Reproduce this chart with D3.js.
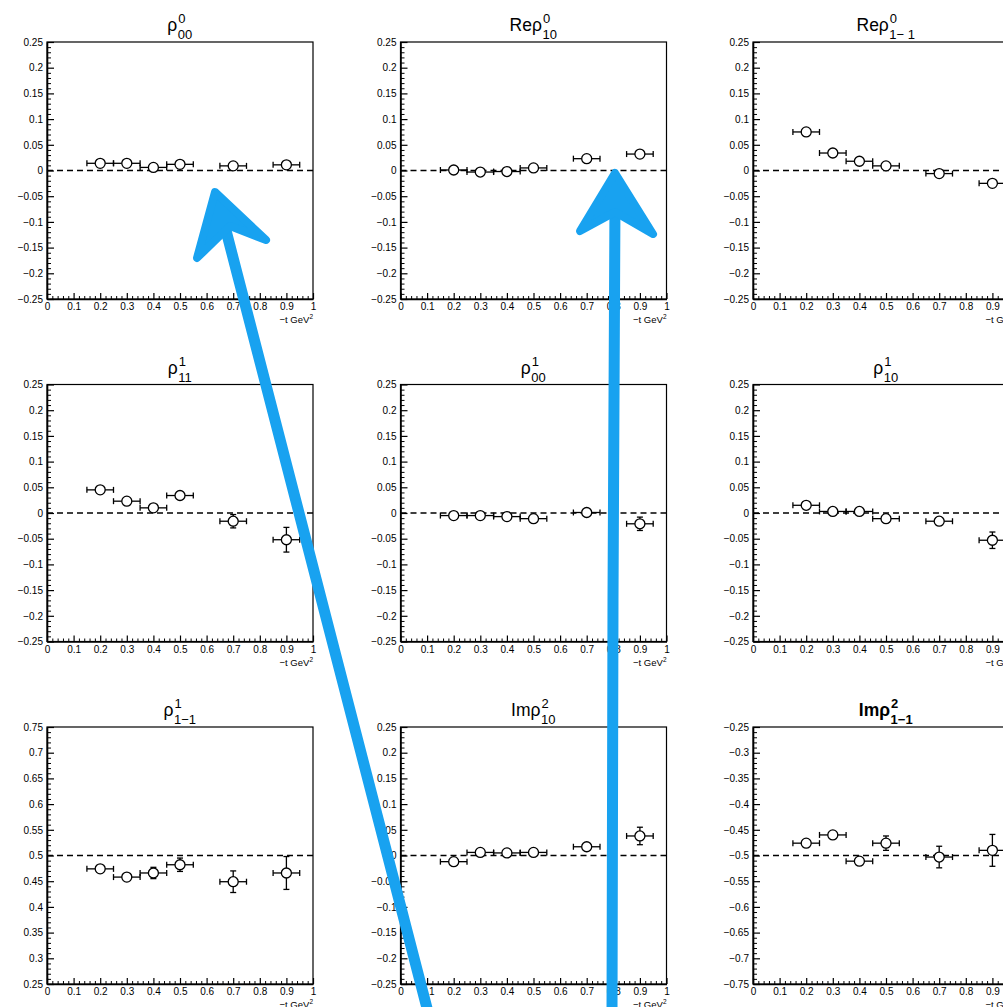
<!DOCTYPE html>
<html>
<head>
  <script src="https://cdnjs.cloudflare.com/ajax/libs/d3/7.8.5/d3.min.js"></script>
  <style>
    body { margin: 0; background: #fff; }
    text { font-family: "Liberation Sans", Arial, Helvetica, sans-serif; fill: #000; }
    .tick text { font-size: 10px; }
    .axis path, .axis line { stroke: #000; }
  </style>
</head>
<body>
  <div id="graph"></div>
  <script>
    // -t bins (centres) and half widths, same for every panel
    const tBins = [0.2, 0.3, 0.4, 0.5, 0.7, 0.9];
    const tHalf = [0.05, 0.05, 0.05, 0.05, 0.05, 0.05];
    const xTicks = [0, 0.1, 0.2, 0.3, 0.4, 0.5, 0.6, 0.7, 0.8, 0.9, 1];
    const yTicksSym = [-0.25, -0.2, -0.15, -0.1, -0.05, 0, 0.05, 0.1, 0.15, 0.2, 0.25];
    const yTicksHigh = [0.25, 0.3, 0.35, 0.4, 0.45, 0.5, 0.55, 0.6, 0.65, 0.7, 0.75];
    const yTicksLow = [-0.75, -0.7, -0.65, -0.6, -0.55, -0.5, -0.45, -0.4, -0.35, -0.3, -0.25];

    // spin density matrix elements
    const r0_00 = [0.014, 0.014, 0.006, 0.012, 0.009, 0.011];
    const r0_00Err = [0.004, 0.004, 0.004, 0.004, 0.005, 0.006];
    const reR0_10 = [0.001, -0.003, -0.002, 0.005, 0.023, 0.032];
    const reR0_10Err = [0.003, 0.003, 0.003, 0.004, 0.005, 0.006];
    const reR0_1m1 = [0.075, 0.034, 0.018, 0.009, -0.006, -0.025];
    const reR0_1m1Err = [0.004, 0.004, 0.004, 0.004, 0.005, 0.006];
    const r1_11 = [0.045, 0.023, 0.010, 0.034, -0.016, -0.052];
    const r1_11Err = [0.005, 0.005, 0.005, 0.006, 0.013, 0.024];
    const r1_00 = [-0.005, -0.005, -0.007, -0.011, 0.001, -0.021];
    const r1_00Err = [0.004, 0.004, 0.004, 0.005, 0.008, 0.013];
    const r1_10 = [0.015, 0.003, 0.003, -0.011, -0.016, -0.053];
    const r1_10Err = [0.004, 0.004, 0.004, 0.005, 0.007, 0.016];
    const r1_1m1 = [0.474, 0.458, 0.466, 0.482, 0.449, 0.466];
    const r1_1m1Err = [0.009, 0.005, 0.011, 0.013, 0.021, 0.032];
    const imR2_10 = [-0.012, 0.006, 0.005, 0.006, 0.017, 0.038];
    const imR2_10Err = [0.005, 0.004, 0.004, 0.005, 0.007, 0.017];
    const imR2_1m1 = [-0.476, -0.460, -0.511, -0.476, -0.503, -0.490];
    const imR2_1m1Err = [0.005, 0.005, 0.008, 0.014, 0.021, 0.031];

    const panels = [
      { pre: "ρ", sup: "0", sub: "00", y: r0_00, e: r0_00Err, ticks: yTicksSym, ref: 0 },
      { pre: "Reρ", sup: "0", sub: "10", y: reR0_10, e: reR0_10Err, ticks: yTicksSym, ref: 0 },
      { pre: "Reρ", sup: "0", sub: "1− 1", y: reR0_1m1, e: reR0_1m1Err, ticks: yTicksSym, ref: 0 },
      { pre: "ρ", sup: "1", sub: "11", y: r1_11, e: r1_11Err, ticks: yTicksSym, ref: 0 },
      { pre: "ρ", sup: "1", sub: "00", y: r1_00, e: r1_00Err, ticks: yTicksSym, ref: 0 },
      { pre: "ρ", sup: "1", sub: "10", y: r1_10, e: r1_10Err, ticks: yTicksSym, ref: 0 },
      { pre: "ρ", sup: "1", sub: "1−1", y: r1_1m1, e: r1_1m1Err, ticks: yTicksHigh, ref: 0.5 },
      { pre: "Imρ", sup: "2", sub: "10", y: imR2_10, e: imR2_10Err, ticks: yTicksSym, ref: 0 },
      { pre: "Imρ", sup: "2", sub: "1−1", y: imR2_1m1, e: imR2_1m1Err, ticks: yTicksLow, ref: -0.5, bold: true }
    ];

    // layout of the 3x3 pad grid
    const W = 1003, H = 1007;
    const colLeft = [47, 400.5, 753];
    const rowTop = [42, 384.5, 727];
    const pw = 266, ph = 257;

    const svg = d3.select("#graph").append("svg")
      .attr("width", W).attr("height", H);

    const fmt = v => (Math.round(v * 100) / 100).toString().replace("-", "−");

    panels.forEach((p, i) => {
      const g = svg.append("g")
        .attr("transform", `translate(${colLeft[i % 3]},${rowTop[Math.floor(i / 3)]})`);

      const x = d3.scaleLinear().domain([0, 1]).range([0, pw]);
      const lo = p.ticks[0], hi = p.ticks[p.ticks.length - 1];
      const y = d3.scaleLinear().domain([lo, hi]).range([ph, 0]);

      // frame
      g.append("rect").attr("width", pw).attr("height", ph)
        .attr("fill", "none").attr("stroke", "#000").attr("stroke-width", 1.2);

      // minor ticks
      const xMinor = d3.range(0, 51).map(k => k * 0.02).filter(v => Math.abs(v * 10 - Math.round(v * 10)) > 1e-6);
      const yMinor = d3.range(0, 51).map(k => lo + k * 0.01).filter(v => Math.abs(v * 20 - Math.round(v * 20)) > 1e-6);

      g.append("g").attr("class", "axis").attr("transform", `translate(0,${ph})`)
        .call(d3.axisBottom(x).tickValues(xMinor).tickSize(-3).tickSizeOuter(0).tickFormat(""))
        .call(a => a.select(".domain").remove());
      g.append("g").attr("class", "axis")
        .call(d3.axisLeft(y).tickValues(yMinor).tickSize(-4).tickSizeOuter(0).tickFormat(""))
        .call(a => a.select(".domain").remove());

      // major ticks + labels
      g.append("g").attr("class", "axis").attr("transform", `translate(0,${ph})`)
        .call(d3.axisBottom(x).tickValues(xTicks).tickSize(-6).tickSizeOuter(0).tickPadding(4).tickFormat(fmt))
        .call(a => a.select(".domain").attr("stroke-width", 1.6))
        .call(a => a.selectAll(".tick line").attr("stroke-width", 1.2))
        .call(a => a.selectAll(".tick text").attr("font-family", null).attr("font-size", null));
      g.append("g").attr("class", "axis")
        .call(d3.axisLeft(y).tickValues(p.ticks).tickSize(-7).tickSizeOuter(0).tickPadding(4).tickFormat(fmt))
        .call(a => a.select(".domain").attr("stroke-width", 1.6))
        .call(a => a.selectAll(".tick line").attr("stroke-width", 1.2))
        .call(a => a.selectAll(".tick text").attr("font-family", null).attr("font-size", null));

      // x axis title
      const xt = g.append("text").attr("x", pw).attr("y", ph + 24)
        .attr("text-anchor", "end").style("font-size", "9.5px").text("−t GeV");
      xt.append("tspan").attr("dy", -4).style("font-size", "6.5px").text("2");

      // reference line
      g.append("line")
        .attr("x1", x(0)).attr("x2", x(1))
        .attr("y1", y(p.ref)).attr("y2", y(p.ref))
        .attr("stroke", "#000").attr("stroke-width", 1.3)
        .attr("stroke-dasharray", "6,4");

      // points with error bars
      const pts = tBins.map((t, k) => ({ t: t, dt: tHalf[k], v: p.y[k], dv: p.e[k] }));
      const ge = g.append("g").attr("stroke", "#000").attr("stroke-width", 1.3);
      pts.forEach(d => {
        const cx = x(d.t), cy = y(d.v);
        ge.append("line").attr("x1", x(d.t - d.dt)).attr("x2", x(d.t + d.dt)).attr("y1", cy).attr("y2", cy);
        ge.append("line").attr("x1", x(d.t - d.dt)).attr("x2", x(d.t - d.dt)).attr("y1", cy - 3).attr("y2", cy + 3);
        ge.append("line").attr("x1", x(d.t + d.dt)).attr("x2", x(d.t + d.dt)).attr("y1", cy - 3).attr("y2", cy + 3);
        if (y(d.v - d.dv) - y(d.v + d.dv) > 11) {
          ge.append("line").attr("x1", cx).attr("x2", cx).attr("y1", y(d.v - d.dv)).attr("y2", y(d.v + d.dv));
          ge.append("line").attr("x1", cx - 3).attr("x2", cx + 3).attr("y1", y(d.v - d.dv)).attr("y2", y(d.v - d.dv));
          ge.append("line").attr("x1", cx - 3).attr("x2", cx + 3).attr("y1", y(d.v + d.dv)).attr("y2", y(d.v + d.dv));
        }
      });
      g.append("g").selectAll("circle").data(pts).join("circle")
        .attr("cx", d => x(d.t)).attr("cy", d => y(d.v)).attr("r", 5)
        .attr("fill", "#fff").attr("stroke", "#000").attr("stroke-width", 1.3);

      // title: pre + stacked super/subscript
      const tg = g.append("g").style("font-weight", p.bold ? "bold" : "normal");
      const main = tg.append("text").attr("x", 0).attr("y", -11).style("font-size", "17.5px").text(p.pre);
      const mw = main.node().getComputedTextLength();
      const sp = tg.append("text").attr("x", mw + 1).attr("y", -19).style("font-size", "13px").text(p.sup);
      const sb = tg.append("text").attr("x", mw + 0.5).attr("y", -3).style("font-size", "13px").text(p.sub);
      const tw = mw + 1 + Math.max(sp.node().getComputedTextLength(), sb.node().getComputedTextLength());
      tg.attr("transform", `translate(${pw / 2 - tw / 2},0)`);
    });

    // hand drawn blue arrows laid over the figure (page coordinates)
    const arrowColor = "#18a2f0";
    const arrows = [
      { shaft: [[428, 1012], [222, 215]],
        head: [[197, 258], [215, 192], [266, 240], [230, 226]] },
      { shaft: [[612, 1012], [613, 600], [615, 200]],
        head: [[580, 231], [615, 173], [653, 234], [615, 212]] }
    ];
    const ag = svg.append("g");
    arrows.forEach(a => {
      ag.append("path").attr("d", d3.line()(a.shaft))
        .attr("fill", "none").attr("stroke", arrowColor).attr("stroke-width", 11)
        .attr("stroke-linecap", "round").attr("stroke-linejoin", "round");
      ag.append("path").attr("d", d3.line()(a.head) + "Z")
        .attr("fill", arrowColor).attr("stroke", arrowColor).attr("stroke-width", 8)
        .attr("stroke-linejoin", "round");
    });
  </script>
</body>
</html>
